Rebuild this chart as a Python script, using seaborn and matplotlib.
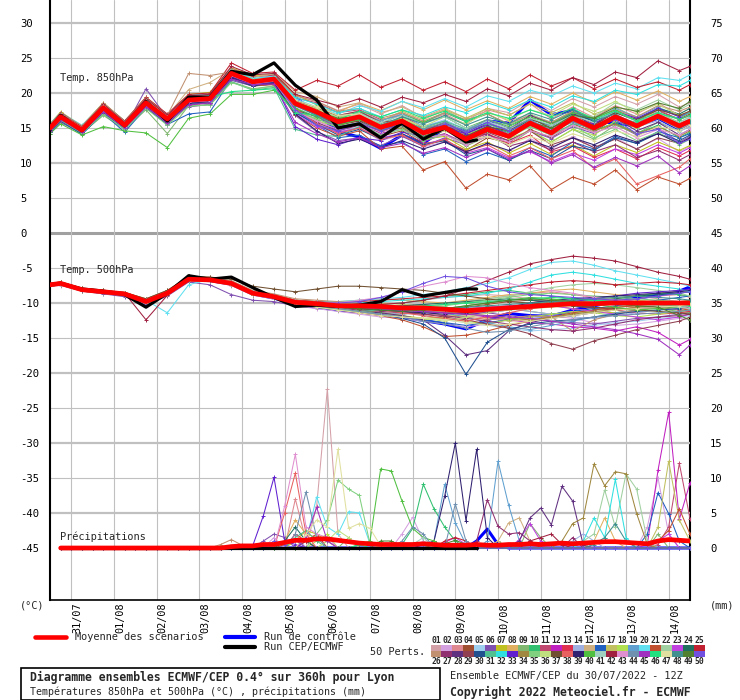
import numpy as np
import pandas as pd
import matplotlib
matplotlib.use("Agg")
import matplotlib.pyplot as plt
from matplotlib.lines import Line2D
from matplotlib.patches import Rectangle
from matplotlib.transforms import ScaledTranslation
import seaborn as sns

# ---------------- data ----------------
HOURS_T = [0, 6] + list(range(18, 355, 12)) + [360]          # temperature steps (h)
HOURS_DET = [0, 6] + list(range(18, 235, 12)) + [240]        # deterministic run steps
HOURS_P = list(range(6, 361, 6))                             # precipitation steps
HOURS_P_DET = list(range(6, 241, 6))

DAY_HOURS = list(range(12, 349, 24))
DAY_LABELS = ["31/07", "01/08", "02/08", "03/08", "04/08", "05/08", "06/08", "07/08",
              "08/08", "09/08", "10/08", "11/08", "12/08", "13/08", "14/08"]

LEFT_TICKS = list(range(-45, 31, 5))
RIGHT_TICKS = list(range(0, 76, 5))
PRECIP_BASE = -45   # 0 mm on the right scale sits at -45 on the left scale

MEMBER_COLORS = [
    "#d4a0a8", "#d4a0e0", "#e08890", "#a05030", "#a0d0f0", "#8050b0", "#c0c020", "#e0b060",
    "#80b870", "#30c070", "#c04870", "#c020c0", "#e03050", "#a0b0e0", "#d0b080", "#2060c0",
    "#c0c060", "#b0e050", "#60a0d0", "#60e0f0", "#c05030", "#a0d0a0", "#c040e0", "#207060",
    "#c02030", "#c09070", "#903070", "#603080", "#904050", "#205090", "#50c090", "#30e0e0",
    "#6020d0", "#a08840", "#80d080", "#c0e080", "#705030", "#e86060", "#302070", "#50c040",
    "#a0d0c0", "#a02040", "#e090d0", "#7090b0", "#a030c0", "#20e080", "#e0e0a0", "#409090",
    "#508030", "#7050e0"]

T850_MEAN = [15.0, 16.6, 14.7, 17.9, 15.4, 18.6, 16.3, 19.0, 19.2, 22.8, 21.6, 22.0, 18.5, 17.3,
             15.9, 16.6, 15.1, 16.0, 14.3, 15.1, 13.4, 14.8, 13.8, 15.7, 14.3, 16.4, 15.0, 16.6,
             15.3, 16.7, 15.3, 16.0]
T850_CONTROL = [15.0, 16.5, 14.6, 17.6, 15.3, 18.4, 16.2, 18.9, 19.0, 22.5, 21.5, 22.5, 19.4, 17.0,
                14.5, 13.7, 12.1, 14.0, 12.8, 15.0, 14.6, 16.0, 15.7, 19.0, 16.9, 17.5, 16.0, 15.7,
                15.3, 16.4, 14.8, 15.4]
T850_DET = [15.0, 16.8, 14.6, 17.9, 15.3, 18.8, 16.0, 19.4, 19.4, 23.1, 22.6, 24.3, 21.1, 19.0,
            15.0, 15.6, 13.6, 15.7, 13.4, 15.0, 13.0, 13.3]

T850_MEMBERS = [
    [15.3,16.9,15.0,18.2,15.6,19.0,16.6,19.5,19.6,23.2,22.0,22.4,19.6,18.8,17.5,18.4,17.0,18.2,16.5,17.6,16.0,17.8,17.2,19.0,17.5,19.2,18.0,19.5,18.4,19.8,18.0,18.6],
    [14.6,16.2,14.4,17.5,15.0,18.2,15.9,18.6,18.8,22.3,21.2,21.6,17.8,16.2,14.5,15.0,13.2,14.0,12.3,13.0,11.5,12.8,11.6,13.5,12.0,13.8,12.2,13.6,12.0,13.5,11.6,12.4],
    [15.5,17.0,15.2,18.4,15.8,18.9,16.7,19.2,19.5,23.0,21.8,21.9,18.9,17.8,16.8,17.4,16.0,17.2,15.8,17.0,15.5,17.6,16.8,18.5,16.3,18.0,16.5,18.2,17.0,18.6,16.8,17.4],
    [14.8,16.5,14.6,17.6,15.3,18.3,16.0,18.8,19.0,22.5,21.4,22.3,19.0,17.6,15.2,15.4,13.8,14.6,12.8,13.2,11.8,13.6,12.9,14.8,13.6,15.6,14.4,16.5,15.6,17.4,16.3,17.0],
    [15.1,16.8,14.9,18.0,15.5,18.8,16.5,19.1,19.3,22.9,21.9,22.2,18.0,16.5,15.6,16.8,15.5,16.6,15.2,16.2,14.8,15.9,14.6,16.0,15.0,17.0,15.8,17.6,16.3,17.4,15.6,16.4],
    [14.2,15.8,14.2,17.0,15.0,20.6,16.4,18.0,18.4,21.8,21.0,21.3,16.8,14.5,13.2,13.6,12.5,13.8,12.4,13.6,12.6,14.0,13.2,14.6,13.5,15.2,14.2,15.6,14.0,15.0,13.0,13.8],
    [15.6,17.3,15.3,18.6,16.0,19.4,16.9,19.8,20.1,23.6,22.5,22.6,19.8,18.3,16.6,16.9,15.0,15.4,13.4,13.8,12.0,13.0,11.4,12.8,11.2,12.6,11.0,12.6,11.5,13.0,11.8,12.5],
    [15.2,16.9,15.1,18.1,15.7,18.9,16.4,19.3,19.4,23.1,21.9,22.1,18.7,17.9,17.3,18.6,17.5,18.8,17.6,19.0,17.6,18.9,17.8,19.5,18.4,20.0,18.6,20.2,19.0,20.3,18.8,19.5],
    [14.5,16.1,14.3,16.8,14.8,17.6,14.2,18.2,18.3,21.6,20.6,21.0,17.6,16.2,15.5,16.2,14.6,15.2,13.5,14.2,12.4,13.8,12.6,14.6,13.0,14.8,13.4,15.4,14.2,15.8,14.6,15.2],
    [15.0,16.6,14.8,17.7,15.2,18.4,16.2,18.9,19.1,22.6,21.5,21.9,18.3,17.0,15.8,16.6,15.6,17.0,15.8,17.2,15.9,17.0,15.4,16.6,14.8,16.0,14.6,15.8,14.2,15.4,13.6,14.4],
    [15.4,17.1,15.1,18.3,15.8,19.2,16.8,19.6,19.8,23.5,22.3,22.5,19.3,18.6,17.2,17.6,16.2,16.8,15.0,15.6,14.0,15.2,14.2,16.0,14.8,16.8,15.6,17.2,16.0,17.6,16.2,16.8],
    [14.9,16.5,14.6,17.8,15.3,18.5,16.2,18.9,19.1,22.7,21.5,21.8,18.2,16.8,15.0,15.8,14.2,15.0,13.0,14.2,12.8,14.5,13.6,15.4,14.2,16.2,15.1,16.9,15.6,17.0,15.5,16.2],
    [15.1,16.7,14.8,17.9,15.5,18.7,16.4,19.1,19.2,22.9,21.7,22.1,18.6,17.2,15.6,16.0,14.5,15.4,13.8,14.7,13.0,14.2,12.8,14.0,11.6,12.4,10.8,12.0,10.6,12.2,11.0,11.8],
    [14.7,16.3,14.5,17.4,15.1,18.1,15.8,18.5,18.7,22.2,21.1,21.4,17.5,15.8,14.3,15.2,13.9,15.0,13.6,14.8,13.6,15.0,14.1,15.8,14.9,16.6,15.4,16.8,15.2,16.0,14.5,15.2],
    [15.3,17.0,15.0,18.2,15.7,19.1,16.7,20.5,21.5,23.4,22.2,22.8,20.2,19.5,18.0,18.6,17.2,18.0,16.6,17.8,16.4,17.4,16.0,17.0,15.6,16.8,15.2,16.6,15.0,16.4,14.8,15.6],
    [14.4,16.0,14.1,17.1,14.4,17.9,15.5,17.0,17.3,22.0,21.0,21.3,17.2,15.4,13.6,14.0,12.4,13.0,11.2,12.0,10.2,11.5,10.4,12.2,11.0,13.0,12.0,13.8,12.8,14.5,13.6,14.2],
    [15.2,16.8,14.9,18.0,15.5,18.8,16.5,19.2,19.4,23.0,21.8,22.2,18.8,17.6,16.4,17.3,16.0,17.4,16.2,17.6,16.4,17.8,16.8,18.4,17.2,18.6,17.0,18.0,16.4,17.2,15.8,16.6],
    [14.9,16.4,14.6,17.6,15.2,18.4,16.1,18.8,19.0,22.6,21.4,21.8,17.9,16.0,15.2,16.4,15.2,16.5,14.8,15.8,14.1,15.2,13.5,14.6,13.0,14.8,14.0,16.0,15.0,16.8,15.4,16.0],
    [15.0,16.7,14.7,17.9,15.4,18.7,16.3,19.0,19.2,22.8,21.6,22.0,18.4,17.0,16.0,17.2,16.0,17.0,15.2,16.0,14.2,15.6,14.6,16.4,15.2,17.2,16.2,17.8,16.6,18.0,16.6,17.2],
    [15.6,17.2,15.4,18.5,16.0,19.3,16.9,19.7,19.9,23.3,22.1,22.4,19.2,18.0,17.0,18.2,17.4,18.8,17.9,19.2,18.0,19.6,18.8,20.4,19.6,21.0,20.0,21.4,20.6,22.2,21.8,22.6],
    [14.6,16.2,14.4,17.4,15.0,18.0,15.7,18.3,18.6,22.1,21.0,21.2,16.9,15.0,13.8,14.6,12.0,12.4,9.0,10.2,6.4,8.4,7.6,9.6,6.2,8.0,7.0,9.0,6.2,8.0,7.0,7.8],
    [15.0,16.6,14.7,17.8,15.4,18.6,16.3,19.0,19.1,22.7,21.6,21.9,18.4,17.6,16.6,17.2,15.6,16.2,14.6,15.6,14.4,16.2,15.4,17.0,15.8,17.4,16.6,18.6,17.6,19.0,17.6,18.4],
    [14.8,16.4,14.5,17.7,15.2,18.4,16.1,18.7,18.9,22.5,21.3,21.7,17.0,15.2,14.4,15.0,13.6,14.2,12.6,13.4,11.4,12.2,10.8,11.6,10.2,11.4,10.4,12.0,11.2,12.6,11.4,12.2],
    [15.1,16.8,14.9,18.0,15.5,18.7,16.5,19.1,19.3,22.9,21.7,22.0,18.6,17.4,16.2,16.8,15.2,16.0,14.4,15.4,13.8,15.2,14.4,16.2,15.4,17.0,16.0,17.2,16.2,17.8,17.0,17.8],
    [15.4,17.2,15.2,18.5,16.0,19.4,17.0,19.8,20.0,24.3,22.8,23.0,20.4,21.8,21.0,22.6,20.8,22.0,20.4,21.6,20.2,22.0,20.6,22.6,21.0,22.2,20.6,22.0,20.8,21.6,20.4,21.2],
    [15.5,17.1,15.3,18.6,15.9,19.3,16.8,22.8,22.5,23.0,21.8,22.2,19.6,18.8,17.4,17.8,16.4,17.2,16.0,17.2,16.2,17.0,15.6,16.8,15.8,17.4,16.4,17.6,16.6,18.2,17.4,18.0],
    [14.8,16.4,14.6,17.6,15.2,18.3,16.0,18.6,18.8,22.4,21.2,21.5,17.4,15.8,14.6,15.4,14.4,15.6,14.2,15.0,13.4,14.2,12.4,13.2,11.8,13.0,11.6,12.6,10.8,11.8,10.4,11.2],
    [14.7,16.3,14.4,17.4,15.1,18.2,15.9,18.5,18.8,22.3,21.2,21.6,17.6,16.6,15.6,16.2,14.6,15.8,14.6,15.8,14.2,15.6,14.8,16.8,15.6,17.2,15.2,16.4,14.6,15.8,14.0,14.8],
    [15.2,16.9,14.9,18.1,15.6,18.8,16.5,19.2,19.3,23.0,21.8,22.1,18.9,17.8,16.8,17.4,15.8,16.2,14.8,15.4,13.6,14.4,13.2,14.6,12.6,13.6,12.2,13.4,12.0,13.6,12.8,13.6],
    [14.5,16.0,14.2,17.2,14.9,17.9,15.6,18.4,18.6,22.1,21.0,21.5,17.2,15.6,14.0,14.8,13.4,14.2,12.6,13.2,11.2,12.0,10.4,11.8,10.6,12.4,11.8,13.6,12.8,14.2,13.2,14.0],
    [15.0,16.5,14.6,17.6,15.3,18.5,16.2,18.9,19.0,21.6,20.4,20.8,14.8,14.0,13.8,15.2,14.6,16.0,15.0,16.0,14.8,15.6,14.4,15.2,14.0,15.6,15.0,16.6,15.8,17.0,16.4,17.2],
    [15.3,17.0,15.0,18.3,15.8,19.0,16.6,19.4,19.6,23.1,22.0,22.3,19.4,18.4,17.2,17.8,16.6,17.6,16.8,18.0,17.2,18.6,17.6,19.0,18.0,19.6,18.8,20.4,19.8,21.2,21.0,21.8],
    [14.9,16.5,14.6,17.7,15.3,18.5,16.2,18.8,19.0,22.4,21.3,21.4,15.2,13.4,12.6,13.6,13.2,14.4,13.8,15.0,14.2,15.4,14.0,15.4,14.6,16.2,15.6,17.4,16.4,17.8,16.6,17.4],
    [15.1,16.7,14.8,17.9,15.4,18.6,16.3,19.0,19.2,22.8,21.7,22.0,18.6,17.4,16.2,16.4,14.6,15.0,13.6,14.6,13.4,14.8,13.8,15.4,14.4,16.0,14.6,15.6,14.2,15.2,13.8,14.6],
    [14.6,16.1,14.3,17.0,14.8,17.8,15.4,18.1,18.3,21.5,20.5,21.0,17.2,16.4,15.0,15.6,14.0,14.8,13.2,14.0,12.8,14.6,13.6,15.2,14.0,15.4,13.6,14.8,13.2,14.4,12.6,13.4],
    [15.2,16.8,15.0,18.1,15.6,18.8,16.5,19.2,19.4,23.0,21.8,22.1,18.8,17.8,16.4,17.0,15.4,16.4,15.2,16.6,15.6,17.2,16.2,17.6,16.8,18.4,17.4,18.8,17.2,18.4,16.8,17.4],
    [14.9,16.6,14.7,17.8,15.4,18.6,16.3,19.0,19.1,22.7,21.5,21.9,18.4,17.0,15.4,16.0,14.4,15.6,14.0,15.2,13.8,15.2,14.6,16.4,15.0,16.4,15.4,17.2,16.2,17.6,16.8,17.4],
    [15.0,16.6,14.8,17.8,15.4,18.6,16.3,18.9,19.1,22.6,21.4,21.8,17.8,15.6,14.2,15.0,13.4,14.0,12.4,13.4,11.6,12.6,11.0,12.2,10.6,11.8,9.2,10.6,7.0,8.2,9.4,10.6],
    [14.7,16.3,14.4,17.5,15.1,18.2,15.9,18.6,18.8,22.2,21.1,21.4,17.0,14.6,12.8,13.4,12.2,13.2,12.0,13.0,11.6,12.8,11.8,13.2,12.2,13.6,12.6,14.0,13.0,14.2,12.8,13.6],
    [14.2,15.6,14.0,15.2,14.6,14.3,12.2,16.4,17.0,19.8,19.8,20.4,17.8,16.6,15.4,16.2,15.0,16.6,15.8,16.6,15.0,16.2,15.2,16.6,15.6,17.2,16.4,17.6,16.0,17.0,15.6,16.2],
    [15.1,16.7,14.8,17.9,15.5,18.7,16.4,19.1,19.3,22.8,21.7,22.0,18.6,17.2,16.0,17.0,15.8,16.8,15.6,16.6,15.0,16.0,14.8,16.4,15.4,16.8,15.8,17.4,16.0,17.0,15.8,16.6],
    [15.3,17.0,15.1,18.4,15.8,19.2,16.8,19.6,19.8,23.8,22.6,22.8,19.8,19.0,18.2,19.2,18.0,19.4,18.6,19.8,18.8,20.6,19.6,21.4,20.4,22.2,21.2,23.0,22.2,24.6,23.2,23.8],
    [14.8,16.4,14.6,17.6,15.2,18.3,16.0,18.7,18.9,22.5,21.3,21.7,17.4,16.0,14.8,15.6,14.4,15.4,13.6,14.0,12.6,13.8,13.0,14.6,13.8,15.4,14.4,15.2,13.6,14.8,14.0,14.8],
    [15.0,16.6,14.7,17.8,15.4,18.6,16.3,19.0,19.1,22.7,21.6,21.9,18.3,16.8,15.2,15.8,14.8,16.0,14.8,15.8,14.6,16.2,15.0,16.2,14.6,15.8,14.8,16.4,15.2,16.6,15.0,15.8],
    [14.6,16.2,14.4,17.3,15.0,18.0,15.7,18.3,18.6,22.0,21.2,21.3,15.8,14.2,13.0,13.6,12.2,12.8,11.4,12.2,10.8,12.0,10.6,11.8,10.0,11.2,9.4,10.8,9.6,11.0,8.6,9.6],
    [15.2,16.8,15.0,18.0,15.6,18.8,16.5,19.2,19.4,20.2,20.4,20.6,17.2,16.8,16.2,17.4,16.6,17.6,16.4,17.4,16.0,17.2,16.4,17.6,16.6,17.8,16.2,17.4,16.0,17.2,16.2,16.8],
    [15.3,16.9,15.0,18.2,15.6,18.9,16.6,19.3,19.5,23.1,21.9,22.2,19.0,18.0,16.8,17.0,15.2,15.6,14.0,14.6,13.2,13.8,12.6,13.8,12.8,14.2,13.2,14.6,13.8,15.2,14.6,15.4],
    [14.9,16.5,14.7,17.8,15.3,18.5,16.2,18.9,19.1,22.6,21.5,21.9,18.2,16.8,15.8,16.4,15.4,16.6,15.6,16.8,15.4,16.6,15.6,17.2,16.2,17.6,16.0,17.0,15.4,16.4,15.0,15.8],
    [15.1,16.7,14.8,17.9,15.5,18.7,16.4,19.1,19.3,22.8,21.7,22.0,18.6,17.4,16.4,16.6,15.0,15.4,13.8,14.8,13.6,15.0,14.0,15.8,15.0,16.8,16.4,18.0,17.4,18.6,17.8,18.8],
    [14.8,16.4,14.6,17.6,15.3,18.5,16.1,18.8,19.0,22.6,21.4,21.8,17.6,15.4,14.6,15.6,14.6,15.6,14.2,15.6,14.4,15.8,14.6,15.8,14.6,16.2,15.2,16.2,14.2,14.8,12.8,13.4],
]

T500_MEAN = [-7.4, -7.2, -8.1, -8.4, -8.7, -9.8, -8.6, -6.6, -6.7, -7.2, -8.6, -9.1, -9.9, -10.1,
             -10.4, -10.4, -10.5, -10.7, -10.7, -10.9, -11.1, -10.9, -10.7, -10.5, -10.3, -10.1,
             -10.1, -10.0, -10.0, -10.0, -10.0, -10.0]
T500_CONTROL = [-7.4, -7.3, -8.1, -8.5, -8.8, -9.9, -8.7, -6.7, -6.8, -7.3, -8.7, -9.3, -10.2,
                -10.6, -11.0, -11.3, -11.6, -12.0, -12.5, -13.0, -13.7, -12.4, -11.5, -11.8, -11.9,
                -11.0, -10.4, -9.8, -9.3, -8.9, -8.3, -7.7]
T500_DET = [-7.4, -7.2, -8.0, -8.3, -8.8, -10.6, -8.6, -6.1, -6.6, -6.3, -7.8, -9.2, -10.5, -10.3,
            -10.5, -10.3, -9.8, -8.1, -9.0, -8.5, -8.0, -8.0]

T500_MEMBERS = [
    [-7.2,-7.0,-7.9,-8.2,-8.5,-9.5,-8.4,-6.4,-6.5,-7.0,-8.4,-8.9,-9.6,-9.8,-10.0,-10.2,-10.1,-10.0,-9.6,-9.2,-9.0,-8.8,-9.0,-9.4,-9.8,-10.0,-9.6,-9.2,-9.0,-9.4,-9.8,-10.0],
    [-7.6,-7.5,-8.3,-8.6,-9.0,-10.1,-8.9,-6.9,-6.9,-7.5,-8.9,-9.4,-10.4,-10.8,-11.2,-11.6,-12.0,-12.2,-12.6,-13.0,-13.4,-13.0,-12.4,-12.0,-11.8,-12.2,-12.8,-13.2,-13.0,-12.6,-12.2,-12.4],
    [-7.3,-7.1,-8.0,-8.3,-8.6,-9.6,-8.5,-6.5,-6.6,-7.1,-8.5,-9.0,-9.8,-10.0,-10.3,-10.2,-10.4,-10.6,-10.4,-10.2,-9.8,-9.4,-9.0,-8.6,-8.4,-8.8,-9.2,-9.6,-9.4,-9.0,-8.8,-9.2],
    [-7.5,-7.3,-8.2,-8.5,-8.8,-9.9,-8.7,-6.7,-6.8,-7.3,-8.7,-9.2,-10.0,-10.2,-10.8,-11.0,-11.4,-11.6,-11.2,-10.8,-10.6,-10.2,-9.8,-9.6,-10.0,-10.4,-10.8,-11.0,-10.6,-10.4,-10.8,-11.0],
    [-7.4,-7.2,-8.1,-8.4,-8.7,-9.8,-8.6,-6.6,-6.7,-7.2,-8.6,-9.1,-9.9,-10.1,-10.4,-10.6,-10.8,-11.2,-11.8,-12.4,-12.8,-13.2,-13.6,-14.0,-13.8,-13.6,-13.2,-12.8,-12.6,-12.2,-12.0,-11.8],
    [-7.6,-7.4,-8.3,-8.7,-9.1,-10.3,-9.0,-7.0,-7.4,-8.8,-9.6,-9.8,-10.4,-10.6,-10.8,-10.8,-10.6,-10.4,-10.2,-10.6,-11.0,-11.4,-11.8,-12.2,-12.6,-12.8,-13.0,-12.6,-12.2,-12.0,-11.6,-11.4],
    [-7.3,-7.1,-8.0,-8.3,-8.6,-9.7,-8.5,-6.5,-6.6,-7.1,-8.5,-9.0,-9.8,-10.1,-10.6,-11.0,-11.4,-11.8,-12.2,-12.0,-11.6,-11.2,-10.8,-10.6,-10.4,-10.8,-11.2,-11.4,-11.0,-10.6,-10.4,-10.2],
    [-7.2,-7.0,-7.9,-8.2,-8.5,-9.4,-8.3,-6.3,-6.4,-6.9,-8.3,-8.8,-9.6,-9.8,-9.8,-9.6,-9.4,-9.6,-9.8,-10.0,-9.6,-9.2,-8.8,-8.6,-8.2,-8.0,-8.4,-8.8,-9.0,-8.6,-8.2,-8.4],
    [-7.5,-7.3,-8.2,-8.5,-8.8,-9.9,-8.7,-6.7,-6.8,-7.3,-8.7,-9.2,-10.0,-10.4,-10.6,-10.8,-11.0,-10.8,-10.6,-10.2,-10.0,-10.4,-10.8,-11.2,-11.6,-11.4,-11.0,-10.6,-10.4,-10.8,-11.2,-11.4],
    [-7.4,-7.2,-8.1,-8.4,-8.7,-9.8,-8.6,-6.6,-6.7,-7.2,-8.6,-9.1,-10.0,-10.4,-10.6,-10.4,-10.2,-10.0,-9.6,-9.0,-8.8,-8.4,-8.2,-8.6,-9.0,-9.4,-9.6,-9.4,-9.0,-8.6,-8.8,-9.0],
    [-7.3,-7.1,-8.0,-8.3,-8.6,-9.6,-8.4,-6.4,-6.5,-7.0,-8.4,-8.9,-9.7,-10.0,-10.2,-10.4,-10.6,-10.8,-11.0,-11.2,-11.4,-11.2,-10.8,-10.4,-10.0,-9.6,-9.4,-9.8,-10.2,-10.6,-11.0,-11.2],
    [-7.5,-7.3,-8.2,-8.5,-8.8,-9.9,-8.7,-6.7,-6.8,-7.3,-8.7,-9.2,-10.0,-10.2,-10.4,-10.6,-10.8,-11.0,-11.2,-11.4,-11.6,-12.0,-12.4,-12.8,-13.0,-13.4,-13.6,-14.0,-13.4,-14.2,-16.0,-15.2],
    [-7.4,-7.2,-8.1,-8.4,-8.7,-9.8,-8.6,-6.6,-6.7,-7.2,-8.6,-9.1,-9.8,-10.0,-10.2,-10.2,-10.4,-10.6,-10.8,-11.0,-11.2,-11.0,-10.6,-10.2,-10.0,-10.2,-10.6,-11.0,-11.4,-11.6,-11.4,-11.2],
    [-7.6,-7.4,-8.3,-8.6,-8.9,-10.0,-8.8,-6.8,-6.9,-7.4,-8.8,-9.3,-10.2,-10.6,-11.0,-11.2,-11.4,-11.6,-11.4,-11.0,-10.8,-10.6,-10.8,-11.2,-11.6,-12.0,-12.2,-11.8,-11.4,-11.0,-10.8,-10.6],
    [-7.3,-7.1,-8.0,-8.3,-8.6,-9.7,-8.5,-6.5,-6.6,-7.1,-8.5,-9.0,-9.7,-9.9,-10.2,-10.4,-10.6,-10.8,-11.0,-11.4,-11.8,-12.2,-12.6,-12.4,-12.0,-11.6,-11.2,-11.0,-10.8,-10.6,-10.4,-10.2],
    [-7.5,-7.3,-8.2,-8.5,-8.8,-9.9,-8.7,-6.7,-6.8,-7.3,-8.7,-9.2,-10.1,-10.5,-10.9,-11.2,-11.6,-12.0,-12.4,-12.8,-13.2,-12.8,-12.4,-12.0,-11.6,-11.2,-10.8,-10.4,-10.0,-9.6,-9.2,-9.0],
    [-7.2,-7.0,-7.9,-8.2,-8.5,-9.5,-8.4,-6.4,-6.5,-7.0,-8.4,-8.9,-9.6,-9.8,-10.0,-10.0,-10.0,-10.2,-10.4,-10.6,-10.8,-10.6,-10.4,-10.2,-10.0,-9.8,-9.6,-9.4,-9.6,-9.8,-10.0,-10.2],
    [-7.4,-7.2,-8.1,-8.4,-8.7,-9.8,-8.6,-6.6,-6.7,-7.2,-8.6,-9.1,-9.9,-10.2,-10.6,-11.0,-11.4,-11.8,-12.4,-12.2,-12.6,-13.0,-12.4,-12.0,-11.6,-11.2,-11.4,-11.8,-12.0,-11.6,-11.2,-11.0],
    [-7.3,-7.1,-8.0,-8.3,-8.6,-9.7,-8.5,-6.5,-6.6,-7.1,-8.5,-9.0,-9.8,-10.0,-10.2,-10.4,-10.4,-10.6,-10.8,-11.4,-12.0,-12.8,-13.4,-13.8,-13.2,-12.6,-12.0,-11.4,-11.0,-10.6,-10.2,-10.0],
    [-7.3,-7.1,-8.0,-8.3,-8.6,-9.6,-11.4,-7.4,-6.6,-7.0,-8.4,-8.9,-9.6,-9.8,-9.8,-9.6,-9.4,-9.2,-8.8,-8.4,-7.8,-7.2,-6.4,-5.2,-4.2,-4.0,-4.6,-5.4,-6.0,-6.6,-7.2,-7.6],
    [-7.6,-7.4,-8.3,-8.6,-8.9,-10.0,-8.8,-6.8,-6.9,-7.4,-8.8,-9.3,-10.2,-10.6,-11.0,-11.4,-11.8,-12.4,-13.4,-14.8,-14.6,-14.0,-13.2,-12.6,-12.0,-11.4,-11.0,-10.6,-10.4,-10.2,-10.0,-10.0],
    [-7.4,-7.2,-8.1,-8.4,-8.7,-9.8,-8.6,-6.6,-6.7,-7.2,-8.6,-9.1,-9.9,-10.1,-10.3,-10.5,-10.7,-10.8,-10.6,-10.2,-9.8,-9.4,-9.0,-8.4,-7.8,-7.4,-7.2,-7.4,-7.8,-8.2,-8.6,-9.0],
    [-7.5,-7.3,-8.2,-8.5,-8.8,-9.9,-8.7,-6.7,-6.8,-7.3,-8.7,-9.2,-10.0,-10.2,-10.4,-10.6,-10.8,-11.0,-11.2,-11.0,-10.8,-10.6,-10.4,-10.2,-10.4,-10.8,-11.2,-11.6,-12.0,-12.4,-12.0,-11.6],
    [-7.4,-7.2,-8.1,-8.4,-8.7,-9.8,-8.6,-6.6,-6.7,-7.2,-8.6,-9.1,-9.9,-10.1,-10.4,-10.6,-10.6,-10.4,-10.2,-10.0,-9.8,-9.6,-9.4,-9.6,-9.8,-10.0,-9.8,-9.4,-9.0,-8.8,-8.6,-8.4],
    [-7.3,-7.1,-8.0,-8.3,-8.6,-9.6,-8.4,-6.4,-6.5,-7.0,-8.4,-8.9,-9.6,-9.8,-10.0,-9.8,-9.6,-9.4,-9.2,-9.0,-8.6,-8.2,-7.8,-7.4,-7.0,-6.8,-7.0,-7.4,-7.2,-7.0,-7.2,-7.4],
    [-7.2,-7.0,-7.9,-8.2,-8.5,-9.4,-8.2,-6.2,-6.3,-6.8,-8.2,-8.7,-9.4,-9.6,-9.8,-10.0,-10.2,-10.6,-11.2,-11.8,-12.0,-12.4,-12.2,-11.8,-12.0,-14.0,-12.4,-11.6,-11.0,-10.6,-10.4,-10.2],
    [-7.5,-7.3,-8.2,-8.5,-8.8,-9.9,-8.7,-6.7,-6.8,-7.3,-8.7,-9.2,-10.0,-10.4,-10.8,-11.0,-11.2,-11.4,-11.6,-11.8,-12.2,-12.6,-13.0,-13.4,-13.8,-14.0,-13.6,-13.0,-12.4,-12.0,-11.8,-11.6],
    [-7.6,-7.4,-8.3,-8.6,-8.9,-10.0,-8.8,-6.8,-6.9,-7.4,-8.8,-9.3,-10.2,-10.6,-11.0,-11.2,-11.4,-11.8,-12.4,-14.6,-17.4,-16.8,-14.0,-12.8,-12.2,-11.8,-11.4,-11.0,-10.8,-10.6,-10.4,-10.2],
    [-7.4,-7.2,-8.1,-8.4,-8.7,-9.8,-8.6,-6.6,-6.7,-7.2,-8.6,-9.1,-9.9,-10.2,-10.6,-10.8,-11.0,-11.2,-11.6,-12.0,-12.4,-13.0,-13.6,-14.4,-15.8,-16.6,-15.4,-14.6,-13.8,-13.2,-12.6,-12.0],
    [-7.5,-7.3,-8.2,-8.5,-8.8,-9.9,-8.7,-6.7,-6.8,-7.3,-8.7,-9.2,-10.0,-10.4,-10.8,-11.2,-11.6,-12.2,-13.0,-15.0,-20.2,-15.6,-13.8,-13.0,-12.6,-12.4,-12.0,-11.6,-11.2,-11.0,-10.8,-10.6],
    [-7.4,-7.2,-8.1,-8.4,-8.7,-9.8,-8.6,-6.6,-6.7,-7.2,-8.6,-9.1,-10.0,-10.6,-11.0,-11.2,-11.0,-10.8,-10.6,-10.8,-11.0,-11.2,-11.0,-10.6,-10.2,-9.8,-9.6,-9.8,-10.2,-10.4,-10.2,-10.0],
    [-7.3,-7.1,-8.0,-8.3,-8.6,-9.6,-8.4,-6.4,-6.5,-7.0,-8.4,-8.9,-9.7,-9.9,-10.1,-10.0,-9.8,-9.6,-9.4,-9.2,-9.0,-8.6,-8.0,-7.0,-6.0,-5.6,-6.0,-6.6,-7.2,-7.6,-8.0,-8.4],
    [-7.5,-7.3,-8.2,-8.5,-8.8,-9.9,-8.7,-6.7,-6.8,-7.3,-8.7,-9.2,-10.0,-10.2,-10.4,-10.6,-10.8,-11.0,-11.2,-11.4,-11.6,-11.4,-11.0,-10.6,-10.2,-9.8,-9.4,-9.0,-8.6,-8.4,-8.2,-8.0],
    [-7.4,-7.2,-8.1,-8.4,-8.7,-9.8,-8.6,-6.6,-6.7,-7.2,-8.6,-9.1,-9.9,-10.1,-10.3,-10.5,-10.7,-10.9,-11.1,-11.3,-11.5,-11.8,-12.2,-12.4,-12.0,-11.6,-11.2,-11.0,-10.6,-10.2,-9.8,-9.6],
    [-7.3,-7.1,-8.0,-8.3,-8.6,-9.7,-8.5,-6.5,-6.6,-7.1,-8.5,-9.0,-9.8,-10.0,-10.1,-10.2,-10.4,-10.6,-10.8,-10.4,-10.0,-9.6,-9.2,-8.8,-8.6,-8.8,-9.0,-9.2,-9.4,-9.6,-9.8,-10.0],
    [-7.6,-7.4,-8.3,-8.6,-8.9,-10.0,-8.8,-6.8,-6.9,-7.4,-8.8,-9.3,-10.1,-10.4,-10.8,-11.2,-11.6,-12.0,-12.2,-12.6,-12.0,-11.4,-11.0,-10.8,-10.6,-10.4,-10.2,-10.0,-10.2,-10.4,-10.6,-10.8],
    [-7.2,-7.0,-7.9,-8.2,-8.5,-9.4,-8.2,-6.2,-6.3,-6.6,-7.6,-8.0,-8.4,-8.0,-7.6,-7.6,-7.8,-8.0,-8.2,-8.6,-9.0,-9.4,-9.8,-10.0,-10.2,-10.4,-10.6,-10.8,-11.0,-11.2,-11.4,-11.6],
    [-7.4,-7.2,-8.1,-8.4,-8.7,-9.8,-8.6,-6.6,-6.7,-7.2,-8.6,-9.1,-9.9,-10.2,-10.5,-10.8,-11.0,-11.4,-11.8,-12.2,-12.6,-12.0,-11.4,-10.8,-10.4,-10.0,-9.8,-9.6,-9.8,-10.2,-10.6,-11.0],
    [-7.5,-7.3,-8.2,-8.5,-8.8,-9.9,-8.7,-6.7,-6.8,-7.3,-8.7,-9.2,-10.0,-10.3,-10.6,-10.8,-11.0,-11.2,-11.4,-11.6,-11.4,-11.0,-10.6,-10.0,-9.6,-9.4,-9.2,-9.0,-8.8,-8.6,-8.4,-8.2],
    [-7.4,-7.2,-8.1,-8.4,-8.7,-9.8,-8.6,-6.6,-6.7,-7.2,-8.6,-9.1,-9.9,-10.1,-10.3,-10.5,-10.7,-10.9,-11.1,-10.8,-10.4,-10.0,-9.6,-9.2,-9.4,-9.8,-10.2,-10.6,-11.0,-10.8,-10.6,-10.4],
    [-7.3,-7.1,-8.0,-8.3,-8.6,-9.7,-8.5,-6.5,-6.6,-7.1,-8.5,-9.0,-9.8,-10.0,-10.2,-10.4,-10.6,-10.8,-11.0,-11.2,-11.0,-10.8,-10.6,-10.4,-10.2,-10.0,-9.8,-10.0,-10.2,-10.4,-10.6,-10.8],
    [-7.3,-7.1,-8.0,-8.3,-8.6,-12.4,-8.9,-6.5,-6.6,-7.1,-8.5,-9.0,-9.8,-10.0,-10.2,-10.2,-10.2,-10.0,-9.6,-9.0,-8.0,-6.8,-5.6,-4.4,-3.8,-3.3,-3.6,-4.0,-4.8,-5.6,-6.2,-6.6],
    [-7.3,-7.1,-8.0,-8.3,-8.6,-9.6,-8.4,-6.4,-6.5,-7.0,-8.4,-8.9,-9.7,-9.9,-10.0,-9.6,-9.2,-8.4,-7.6,-7.0,-6.2,-6.4,-7.2,-7.8,-8.2,-8.6,-9.2,-9.6,-9.8,-10.2,-10.4,-10.6],
    [-7.5,-7.3,-8.2,-8.5,-8.8,-9.9,-8.7,-6.7,-6.8,-7.3,-8.7,-9.2,-10.0,-10.4,-10.8,-11.2,-11.6,-12.0,-12.6,-13.0,-13.6,-14.2,-14.0,-13.4,-12.8,-12.4,-12.0,-11.8,-11.6,-11.4,-11.2,-11.0],
    [-7.4,-7.2,-8.1,-8.4,-8.7,-9.8,-8.6,-6.6,-6.7,-7.2,-8.6,-9.1,-9.9,-10.2,-10.4,-10.6,-10.8,-11.0,-11.2,-11.4,-11.6,-11.8,-12.0,-12.2,-12.6,-13.0,-13.4,-13.8,-14.4,-15.2,-17.4,-16.0],
    [-7.3,-7.1,-8.0,-8.3,-8.6,-9.7,-8.5,-6.5,-6.6,-7.1,-8.5,-9.0,-9.8,-10.0,-10.2,-10.4,-10.6,-10.6,-10.4,-10.2,-10.0,-9.8,-9.6,-9.4,-9.2,-9.4,-9.6,-9.8,-10.0,-10.2,-10.4,-10.4],
    [-7.5,-7.3,-8.2,-8.5,-8.8,-9.9,-8.7,-6.7,-6.8,-7.3,-8.7,-9.2,-10.2,-10.6,-11.0,-11.4,-11.8,-12.0,-12.2,-12.4,-12.8,-13.2,-13.0,-12.6,-12.2,-11.8,-11.4,-11.0,-10.8,-10.6,-10.4,-10.2],
    [-7.4,-7.2,-8.1,-8.4,-8.7,-9.8,-8.6,-6.6,-6.7,-7.2,-8.6,-9.1,-9.9,-10.1,-10.3,-10.5,-10.7,-10.9,-11.0,-10.8,-10.6,-10.4,-10.2,-10.0,-9.8,-9.6,-9.4,-9.2,-9.0,-9.2,-9.4,-9.6],
    [-7.4,-7.2,-8.1,-8.4,-8.7,-9.8,-8.6,-6.6,-6.7,-7.2,-8.6,-9.1,-9.9,-10.2,-10.6,-10.8,-11.0,-11.2,-11.0,-10.8,-10.4,-10.0,-9.6,-9.4,-9.6,-9.8,-10.0,-10.2,-10.4,-10.6,-11.8,-12.4],
    [-7.4,-7.2,-8.1,-8.4,-8.7,-9.8,-8.6,-6.6,-6.7,-7.2,-8.6,-9.1,-9.9,-10.0,-10.0,-9.8,-9.2,-8.4,-7.2,-6.2,-6.4,-7.6,-8.4,-8.8,-9.0,-9.2,-9.4,-9.6,-9.4,-9.0,-8.6,-8.4],
]

# precipitation (mm), 6-hourly from +6h
PRECIP_MEAN = [0, 0, 0, 0, 0, 0, 0, 0, 0, 0, 0, 0, 0, 0, 0, 0,
               0.2, 0.3, 0.3, 0.5, 0.5, 0.8, 1.1, 1.1, 1.3, 1.3,
               1.1, 0.9, 0.7, 0.6, 0.5, 0.5, 0.5, 0.5, 0.6, 0.5,
               0.4, 0.4, 0.4, 0.5, 0.4, 0.4, 0.5, 0.5, 0.6, 0.5,
               0.6, 0.7, 0.6, 0.7, 0.8, 0.9, 0.9, 0.8, 0.7, 0.6,
               1.0, 1.2, 1.1, 1.0]
PRECIP_DET = [0, 0, 0, 0, 0, 0, 0, 0, 0, 0, 0, 0, 0, 0, 0, 0, 0, 0, 0, 0,
              0, 0, 0, 0, 0, 0, 0, 0, 0, 0, 0, 0, 0, 0, 0, 0, 0, 0, 0, 0]
PRECIP_CONTROL_EVENTS = {240: 1.0, 246: 2.7, 252: 0.5}
# member -> {hour: mm}; hours not listed are dry
PRECIP_EVENTS = {
    1: {150: 6.0, 156: 22.7, 162: 2.0},
    2: {126: 1.5, 138: 2.0, 198: 2.0, 204: 4.4, 210: 1.0, 300: 1.0, 336: 3.0, 342: 10.0, 348: 2.0},
    3: {138: 7.0, 144: 1.0},
    4: {132: 0.5, 138: 1.2},
    6: {120: 1.0, 126: 2.0, 132: 1.5, 144: 1.0},
    7: {138: 1.0, 144: 2.5, 150: 2.0, 156: 1.0},
    8: {132: 1.0, 138: 4.0, 144: 2.0, 150: 1.5, 306: 1.0, 312: 4.3, 318: 1.0},
    9: {156: 1.0, 168: 1.5, 252: 1.0, 270: 3.5, 276: 1.5, 342: 2.0},
    10: {198: 0.5, 204: 2.8, 210: 9.1, 216: 5.6, 222: 3.0, 228: 1.0},
    11: {342: 0.5, 348: 3.0, 354: 12.1, 360: 4.2},
    12: {336: 0.5, 342: 11.1, 348: 19.4, 354: 4.1, 360: 9.3},
    13: {138: 2.0, 144: 1.0},
    14: {294: 1.0, 300: 2.0, 306: 1.0},
    15: {252: 1.0, 258: 3.6, 264: 4.3, 270: 1.0},
    16: {336: 2.0, 342: 7.9, 348: 4.9, 354: 1.0},
    17: {342: 3.0, 348: 12.4, 354: 4.0, 360: 1.0},
    18: {150: 1.0, 156: 2.0},
    19: {216: 1.0, 222: 9.1, 228: 3.6, 234: 0.5, 246: 1.0, 252: 12.4, 258: 6.1, 264: 1.0},
    20: {144: 1.0, 150: 7.3, 156: 3.0, 162: 2.0, 168: 5.2, 174: 5.0, 180: 0.6},
    21: {342: 1.0, 348: 2.5, 354: 5.6, 360: 2.0},
    22: {300: 1.0, 306: 2.0, 312: 8.3, 318: 3.0, 324: 10.6, 330: 8.4, 336: 1.0},
    23: {222: 0.8, 228: 1.5, 234: 0.5, 264: 1.2, 270: 3.5, 276: 1.0, 342: 1.0, 348: 2.0},
    24: {132: 1.0, 138: 3.0, 144: 1.0},
    25: {144: 1.0, 150: 2.0, 222: 1.0, 228: 1.5, 234: 1.0},
    26: {96: 0.5, 102: 1.2, 108: 0.4},
    27: {240: 1.0, 246: 6.9, 252: 3.1, 258: 2.0, 264: 2.2, 270: 1.0, 294: 1.5},
    28: {264: 1.0, 270: 4.3, 276: 5.7, 282: 3.3, 288: 8.8, 294: 6.7, 300: 0.4},
    29: {234: 0.5},
    31: {138: 1.5, 144: 2.5, 150: 1.0},
    32: {300: 1.0, 306: 4.3, 312: 1.5, 318: 9.8, 324: 1.5},
    33: {114: 0.3, 120: 4.6, 126: 10.1, 132: 1.0, 138: 0.5},
    34: {288: 1.0, 294: 3.5, 300: 4.3, 306: 12.0, 312: 8.9, 318: 10.9, 324: 10.6, 330: 4.9, 336: 0.5},
    35: {150: 2.0, 156: 4.0, 162: 9.7, 168: 8.4, 174: 7.5, 180: 0.6},
    36: {156: 1.0, 162: 2.5, 168: 1.5},
    38: {132: 5.0, 138: 10.7, 144: 2.0},
    39: {210: 0.5, 216: 1.0, 222: 7.4, 228: 15.0, 234: 3.9, 240: 14.1, 246: 1.5},
    40: {174: 0.5, 180: 1.0, 186: 11.3, 192: 11.0, 198: 6.7, 204: 2.8, 210: 1.5, 216: 1.0},
    41: {204: 0.5, 210: 1.5},
    42: {270: 1.0, 276: 1.5, 282: 2.0, 288: 0.5},
    43: {132: 6.0, 138: 13.4, 144: 3.0, 150: 2.0, 156: 1.5},
    44: {138: 2.0, 144: 8.0, 150: 1.5, 198: 1.0, 204: 3.0, 210: 2.0, 228: 6.3, 234: 1.0},
    45: {144: 1.5, 150: 5.8, 156: 1.0},
    46: {174: 0.5},
    47: {144: 2.0, 150: 4.0, 156: 3.0, 162: 14.1, 168: 2.8, 174: 3.5, 180: 2.8, 186: 0.3},
    48: {306: 0.5, 312: 1.5, 318: 3.5, 324: 1.0},
    49: {186: 1.0, 192: 1.0, 198: 0.3, 216: 0.5, 222: 0.6, 228: 1.1, 234: 0.5},
    50: {126: 1.0, 132: 0.5, 138: 1.2},
}

# ---------------- build tables ----------------
recs = []
for i, vals in enumerate(T850_MEMBERS, 1):
    for h, v in zip(HOURS_T, vals):
        recs.append(("t850", f"{i:02d}", h, v))
for i, vals in enumerate(T500_MEMBERS, 1):
    for h, v in zip(HOURS_T, vals):
        recs.append(("t500", f"{i:02d}", h, v))
for i in range(1, 51):
    ev = PRECIP_EVENTS.get(i, {})
    for h in HOURS_P:
        recs.append(("rr", f"{i:02d}", h, PRECIP_BASE + ev.get(h, 0.0)))
df = pd.DataFrame(recs, columns=["field", "member", "hour", "value"])
palette = {f"{i:02d}": c for i, c in enumerate(MEMBER_COLORS, 1)}

ctrl_rr = [PRECIP_BASE + PRECIP_CONTROL_EVENTS.get(h, 0.0) for h in HOURS_P]
mean_rr = [PRECIP_BASE + v for v in PRECIP_MEAN]
det_rr = [PRECIP_BASE + v for v in PRECIP_DET]

# ---------------- figure ----------------
W, H = 740, 700
sns.set_theme(style="white")
plt.rcParams["font.family"] = ["DejaVu Sans Mono", "DejaVu Sans"]

fig = plt.figure(figsize=(W / 100, H / 100), dpi=100)
fig.patch.set_facecolor("white")
ax = fig.add_axes([50 / W, 1 - 600 / H, 640 / W, 600 / H])
ax.set_facecolor("white")
ax.set_xlim(0, 360)
ax.set_ylim(30 - 577 / 7, 30 + 23 / 7)

grid_c = "#c0c0c0"
for lv in [30, 20, 10, -10, -20, -30, -40]:
    ax.axhline(lv, color=grid_c, lw=1.6, zorder=0.5)
for lv in [25, 15, 5, -5, -15, -25, -35]:
    ax.axhline(lv, color=grid_c, lw=0.8, zorder=0.5)
ax.axhline(0, color="#a0a0a0", lw=2.2, zorder=0.5)
for h in DAY_HOURS:
    ax.axvline(h, color=grid_c, lw=0.8, zorder=0.5)

# control run (blue) sits beneath the perturbed members
sns.lineplot(x=HOURS_T, y=T850_CONTROL, color="#0000ff", lw=2.2, ax=ax, zorder=1.5)
sns.lineplot(x=HOURS_T, y=T500_CONTROL, color="#0000ff", lw=2.2, ax=ax, zorder=1.5)
sns.lineplot(x=HOURS_P, y=ctrl_rr, color="#0000ff", lw=2.2, ax=ax, zorder=1.5)

for fld in ["rr", "t500", "t850"]:
    sns.lineplot(data=df[df["field"] == fld], x="hour", y="value", hue="member",
                 palette=palette, legend=False, estimator=None, errorbar=None,
                 lw=0.75, marker="+", markersize=3.5, markeredgewidth=0.7,
                 markeredgecolor="auto", ax=ax, zorder=2)

# deterministic (black) and ensemble mean (red) on top
sns.lineplot(x=HOURS_DET, y=T850_DET, color="black", lw=2.3, ax=ax, zorder=4)
sns.lineplot(x=HOURS_DET, y=T500_DET, color="black", lw=2.3, ax=ax, zorder=4)
sns.lineplot(x=HOURS_P_DET, y=det_rr, color="black", lw=2.3, ax=ax, zorder=4)
sns.lineplot(x=HOURS_T, y=T850_MEAN, color="#ff0000", lw=3.4, ax=ax, zorder=5)
sns.lineplot(x=HOURS_T, y=T500_MEAN, color="#ff0000", lw=3.4, ax=ax, zorder=5)
sns.lineplot(x=HOURS_P, y=mean_rr, color="#ff0000", lw=3.4, ax=ax, zorder=5)

ax.set_xlabel("")
ax.set_ylabel("")

# axes / ticks
for s in ["top", "right"]:
    ax.spines[s].set_visible(False)
ax.spines["left"].set_color("black")
ax.spines["left"].set_linewidth(1.5)
ax.spines["bottom"].set_color("black")
ax.spines["bottom"].set_linewidth(1.2)

ax.set_yticks(LEFT_TICKS)
ax.set_yticklabels([str(v) for v in LEFT_TICKS])
ax.tick_params(axis="y", length=0, pad=21.6, labelsize=7.6, labelcolor="black")
for t in ax.get_yticklabels():
    t.set_horizontalalignment("left")

sec = ax.secondary_yaxis("right", functions=(lambda v: v + 45, lambda v: v - 45))
sec.set_yticks(RIGHT_TICKS)
sec.set_yticklabels([str(v) for v in RIGHT_TICKS])
sec.tick_params(length=0, pad=14.4, labelsize=7.6, labelcolor="black")
sec.spines["right"].set_color("black")
sec.spines["right"].set_linewidth(1.5)

ax.set_xticks(DAY_HOURS)
ax.set_xticklabels(DAY_LABELS, rotation=90)
ax.tick_params(axis="x", length=0, pad=2, labelsize=7.3, labelcolor="black")
off = ScaledTranslation(6 / 100, 0, fig.dpi_scale_trans)
for t in ax.get_xticklabels():
    t.set_transform(t.get_transform() + off)


def fx(px):
    return px / W


def fy(py):
    return 1 - py / H


fs = 7.4
fig.text(fx(60), fy(78), "Temp. 850hPa", fontsize=fs, va="center", ha="left")
fig.text(fx(60), fy(270), "Temp. 500hPa", fontsize=fs, va="center", ha="left")
fig.text(fx(60), fy(537), "Précipitations", fontsize=fs, va="center", ha="left")
fig.text(fx(20), fy(606), "(°C)", fontsize=fs, va="center", ha="left")
fig.text(fx(710), fy(606), "(mm)", fontsize=fs, va="center", ha="left")

# legend
fig.add_artist(Line2D([fx(35), fx(66)], [fy(637), fy(637)], color="#ff0000", lw=3.3,
                      transform=fig.transFigure))
fig.text(fx(75), fy(637), "Moyenne des scénarios", fontsize=fs, va="center", ha="left")
fig.add_artist(Line2D([fx(225), fx(255)], [fy(637), fy(637)], color="#0000ff", lw=3.0,
                      transform=fig.transFigure))
fig.text(fx(264), fy(637), "Run de contrôle", fontsize=fs, va="center", ha="left")
fig.add_artist(Line2D([fx(225), fx(255)], [fy(647), fy(647)], color="black", lw=3.0,
                      transform=fig.transFigure))
fig.text(fx(264), fy(647), "Run CEP/ECMWF", fontsize=fs, va="center", ha="left")
fig.text(fx(370), fy(652), "50 Perts.", fontsize=fs, va="center", ha="left")

bw, bh = 10.96, 6.0
for i, c in enumerate(MEMBER_COLORS):
    col, row = i % 25, i // 25
    x0 = 430.5 + col * bw
    y0 = 645 + row * bh
    fig.add_artist(Rectangle((fx(x0), fy(y0 + bh)), bw / W, bh / H, facecolor=c,
                             edgecolor="none", transform=fig.transFigure))
    ty = 640.5 if row == 0 else 661.5
    fig.text(fx(x0 + bw / 2), fy(ty), f"{i + 1:02d}", fontsize=5.8, fontweight="bold",
             va="center", ha="center")

# title box
fig.add_artist(Rectangle((fx(20.5), fy(699.5)), (440 - 20.5) / W, 32 / H, fill=False,
                         edgecolor="black", lw=1.2, transform=fig.transFigure))
fig.text(fx(30), fy(677), "Diagramme ensembles ECMWF/CEP 0.4° sur 360h pour Lyon",
         fontsize=8.3, fontweight="bold", va="center", ha="left")
fig.text(fx(30), fy(692), "Températures 850hPa et 500hPa (°C) , précipitations (mm)",
         fontsize=7.2, va="center", ha="left")
fig.text(fx(450), fy(676), "Ensemble ECMWF/CEP du 30/07/2022 - 12Z",
         fontsize=7.4, va="center", ha="left")
fig.text(fx(450), fy(692), "Copyright 2022 Meteociel.fr - ECMWF",
         fontsize=8.3, fontweight="bold", va="center", ha="left")

fig.savefig("out.png", dpi=100, facecolor="white")
